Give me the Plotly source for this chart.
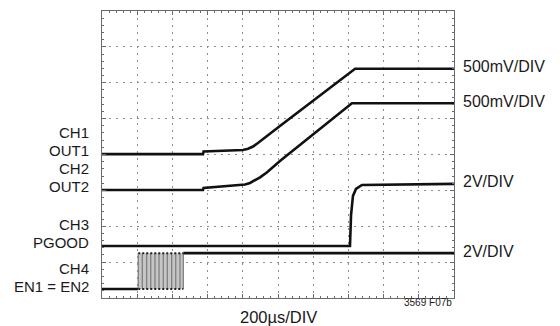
import plotly.graph_objects as go

# Scope settings: 200 µs/div horizontally, 10 x 8 divisions
T_PER_DIV = 200
N_XDIV, N_YDIV = 10, 8

# CH1 OUT1 (500mV/DIV), ground marker at 4.01 div
t_ch1 = [0, 574, 577, 773, 801, 830, 858, 886, 915, 955, 1011, 1438, 2000]
v_ch1 = [0, 0, 0.037, 0.054, 0.058, 0.075, 0.106, 0.155, 0.211, 0.288, 0.392, 1.19, 1.19]

# CH2 OUT2 (500mV/DIV), ground marker at 3.01 div
t_ch2 = [0, 574, 577, 784, 813, 841, 869, 898, 938, 1011, 1420, 2000]
v_ch2 = [0, 0, 0.028, 0.063, 0.077, 0.098, 0.133, 0.177, 0.248, 0.405, 1.21, 1.21]

# CH3 PGOOD (2V/DIV), ground marker at 1.45 div
t_ch3 = [0, 1409, 1415, 1426, 1443, 1477, 2000]
v_ch3 = [0, 0, 1.73, 2.79, 3.18, 3.40, 3.46]

# CH4 EN1 = EN2 (2V/DIV), ground marker at 0.25 div
t_ch4_low = [0, 204]
t_ch4_high = [462, 2000]
en_high_v = 2.0
en_burst = [204, 462]
en_edges = [206, 229, 254, 277, 301, 324, 348, 371, 396, 419, 443, 462]

ch_offsets = {"ch1": 4.01, "ch2": 3.01, "ch3": 1.45, "ch4": 0.25}
ch_scales = {"ch1": 0.5, "ch2": 0.5, "ch3": 2.0, "ch4": 2.0}

left_labels = ["CH1", "OUT1", "CH2", "OUT2", "CH3", "PGOOD", "CH4", "EN1 = EN2"]
left_label_y = [132.5, 150, 168.5, 186, 224.5, 242, 268.5, 286]
right_labels = ["500mV/DIV", "500mV/DIV", "2V/DIV", "2V/DIV"]
right_label_ch = ["ch1", "ch2", "ch3", "ch4"]
right_label_v = [1.19, 1.21, 3.46, 2.0]

W, H = 560, 326
X0, X1, Y0, Y1 = 102, 454, 11, 298  # plot frame in pixels


def to_div(ch, volts):
    return [ch_offsets[ch] + v / ch_scales[ch] for v in volts]


def div_to_px(d):
    return Y1 - d * (Y1 - Y0) / N_YDIV


TRACE = "#111111"
fig = go.Figure()

# EN burst: fast switching drawn as a grey band with edges
lo4, hi4 = to_div("ch4", [0, en_high_v])
fig.add_trace(go.Scatter(
    x=[en_burst[0], en_burst[1], en_burst[1], en_burst[0], en_burst[0]],
    y=[lo4, lo4, hi4, hi4, lo4], fill="toself", fillcolor="#c6c6c6",
    line=dict(width=0), mode="lines", hoverinfo="skip"))
ex, ey = [], []
for t in en_edges:
    ex += [t, t, None]
    ey += [lo4, hi4, None]
fig.add_trace(go.Scatter(x=ex, y=ey, mode="lines",
                         line=dict(color="#7a7a7a", width=1.2)))
for lvl in (lo4, hi4):
    fig.add_trace(go.Scatter(x=[en_edges[0], en_edges[-1]], y=[lvl, lvl], mode="lines",
                             line=dict(color="#222222", width=2, dash="2px,2px")))

# CH4 steady levels
fig.add_trace(go.Scatter(x=t_ch4_low, y=to_div("ch4", [0, 0]), mode="lines",
                         line=dict(color=TRACE, width=2.6)))
fig.add_trace(go.Scatter(x=t_ch4_high, y=to_div("ch4", [en_high_v, en_high_v]), mode="lines",
                         line=dict(color=TRACE, width=2.6)))

for ch, t, v in (("ch1", t_ch1, v_ch1), ("ch2", t_ch2, v_ch2), ("ch3", t_ch3, v_ch3)):
    fig.add_trace(go.Scatter(x=t, y=to_div(ch, v), mode="lines",
                             line=dict(color=TRACE, width=2.6, shape="linear")))

FONT = "Liberation Sans, Arial, sans-serif"
ann = []
for txt, yp in zip(left_labels, left_label_y):
    ann.append(dict(text=txt, xref="paper", yref="paper", x=91 / W, y=1 - yp / H,
                    xanchor="right", yanchor="middle", showarrow=False,
                    font=dict(family=FONT, size=15, color="#1a1a1a")))
for txt, ch, v in zip(right_labels, right_label_ch, right_label_v):
    yp = div_to_px(to_div(ch, [v])[0]) - 2
    ann.append(dict(text=txt, xref="paper", yref="paper", x=461 / W, y=1 - yp / H,
                    xanchor="left", yanchor="middle", showarrow=False,
                    font=dict(family=FONT, size=16, color="#1a1a1a")))
ann.append(dict(text="200µs/DIV", xref="paper", yref="paper", x=278.5 / W, y=1 - 316.5 / H,
                xanchor="center", yanchor="middle", showarrow=False,
                font=dict(family=FONT, size=16.5, color="#1a1a1a")))
ann.append(dict(text="3569 F07b", xref="paper", yref="paper", x=454 / W, y=1 - 302.5 / H,
                xanchor="right", yanchor="middle", showarrow=False,
                font=dict(family=FONT, size=10, color="#1a1a1a")))

axis_common = dict(showticklabels=False, showgrid=True, gridcolor="#8c8c8c",
                   gridwidth=1.3, griddash="1.5px,5.5px", zeroline=False,
                   showline=True, linecolor="#6a6a6a", linewidth=1, mirror="allticks",
                   ticks="inside", ticklen=4, tickcolor="#6a6a6a", fixedrange=True)

fig.update_layout(
    width=W, height=H, margin=dict(l=0, r=0, t=0, b=0),
    paper_bgcolor="white", plot_bgcolor="white", showlegend=False,
    annotations=ann,
    xaxis=dict(range=[0, N_XDIV * T_PER_DIV], dtick=T_PER_DIV,
               domain=[X0 / W, X1 / W],
               minor=dict(dtick=T_PER_DIV / 5, ticks="inside", ticklen=2,
                          tickcolor="#6a6a6a", showgrid=False),
               **axis_common),
    yaxis=dict(range=[0, N_YDIV], dtick=1,
               domain=[1 - Y1 / H, 1 - Y0 / H],
               minor=dict(dtick=0.2, ticks="inside", ticklen=2,
                          tickcolor="#6a6a6a", showgrid=False),
               **axis_common),
)

fig.write_html("out.html", config={"displayModeBar": False})
